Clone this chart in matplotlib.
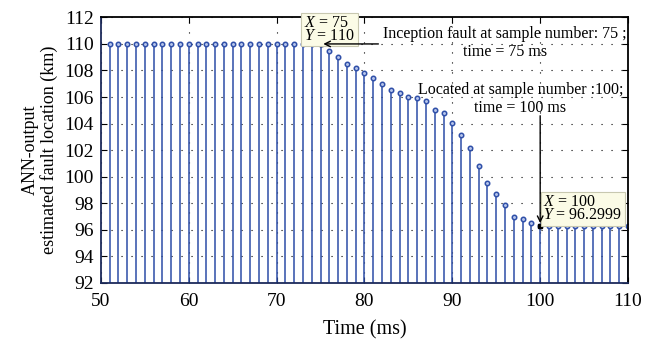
import matplotlib.pyplot as plt
import numpy as np

plt.rcParams['font.family'] = 'Liberation Serif'
plt.rcParams['mathtext.fontset'] = 'custom'
plt.rcParams['mathtext.rm'] = 'Liberation Serif'
plt.rcParams['mathtext.it'] = 'Liberation Serif:italic'

# --- data ---
time_ms = np.arange(51, 111)
location_km = [110.0] * 25 + [
    109.47, 108.99, 108.49, 108.19, 107.79, 107.46, 107.0, 106.5, 106.3, 106.0,
    105.9, 105.72, 105.0, 104.8, 104.07, 103.16, 102.18, 100.78, 99.5, 98.7,
    97.89, 96.98, 96.8, 96.48, 96.2999] + [96.3] * 10

x_ticks = np.arange(50, 111, 10)
y_ticks = np.arange(92, 113, 2)

tip1 = (75, 110.0)
tip2 = (100, 96.2999)

fig = plt.figure(figsize=(6.66, 3.45), dpi=100)
ax = fig.add_axes([0.1515, 0.180, 0.7915, 0.7696])

blue = '#2f4fa8'
ml, sl, bl = ax.stem(time_ms, location_km, bottom=92, basefmt=' ')
plt.setp(sl, color=blue, linewidth=1.4, alpha=0.8)
plt.setp(ml, marker='o', markersize=3.2, markerfacecolor='#b8c6ec',
         markeredgecolor=blue, markeredgewidth=1.1)

ax.set_xlim(50, 110)
ax.set_ylim(92, 112)
ax.set_xticks(x_ticks)
ax.set_yticks(y_ticks)
ax.tick_params(direction='in', top=True, right=True, labelsize=14, length=4)
ax.tick_params(axis='y', pad=5)
ax.tick_params(axis='x', pad=7)
ax.grid(True, color='black', linestyle=(0, (1, 8)), linewidth=0.8)
for s in ax.spines.values():
    s.set_linewidth(1.3)
ax.spines['left'].set_color('#1c2a5a')
ax.spines['bottom'].set_color('#1c2a5a')

ax.set_xlabel('Time (ms)', fontsize=14.5, labelpad=8)
ax.set_ylabel('ANN-output\nestimated fault location (km)', fontsize=13,
              linespacing=1.05, labelpad=5)

# data tips
tip_box = dict(boxstyle='square,pad=0.15', facecolor='#fbfbe6',
               edgecolor='#c8c8b0', linewidth=0.8)
ax.plot(*tip1, 's', color='black', markersize=2.5, zorder=5)
ax.plot(*tip2, 's', color='black', markersize=2.5, zorder=5)
ax.text(73.1, 110.0, '$X$ = 75\n$Y$ = 110', fontsize=11.5, ha='left',
        va='bottom', linespacing=0.75, bbox=tip_box, zorder=6)
ax.text(100.35, 96.5, '$X$ = 100\n$Y$ = 96.2999', fontsize=11.5, ha='left',
        va='bottom', linespacing=0.75, bbox=tip_box, zorder=6)

# callouts
ax.annotate('', xy=tip1, xytext=(81.9, 110),
            arrowprops=dict(arrowstyle='->', color='black', lw=1.0), zorder=7)
ax.text(96.0, 110.05, 'Inception fault at sample number: 75 ;\ntime = 75 ms',
        fontsize=11.5, ha='center', va='center', linespacing=1.2)
ax.annotate('', xy=tip2, xytext=(100, 104.8),
            arrowprops=dict(arrowstyle='->', color='black', lw=1.0), zorder=7)
ax.text(97.75, 105.85, 'Located at sample number :100;\ntime = 100 ms',
        fontsize=11.5, ha='center', va='center', linespacing=1.2)

fig.savefig('out.png', dpi=100)
